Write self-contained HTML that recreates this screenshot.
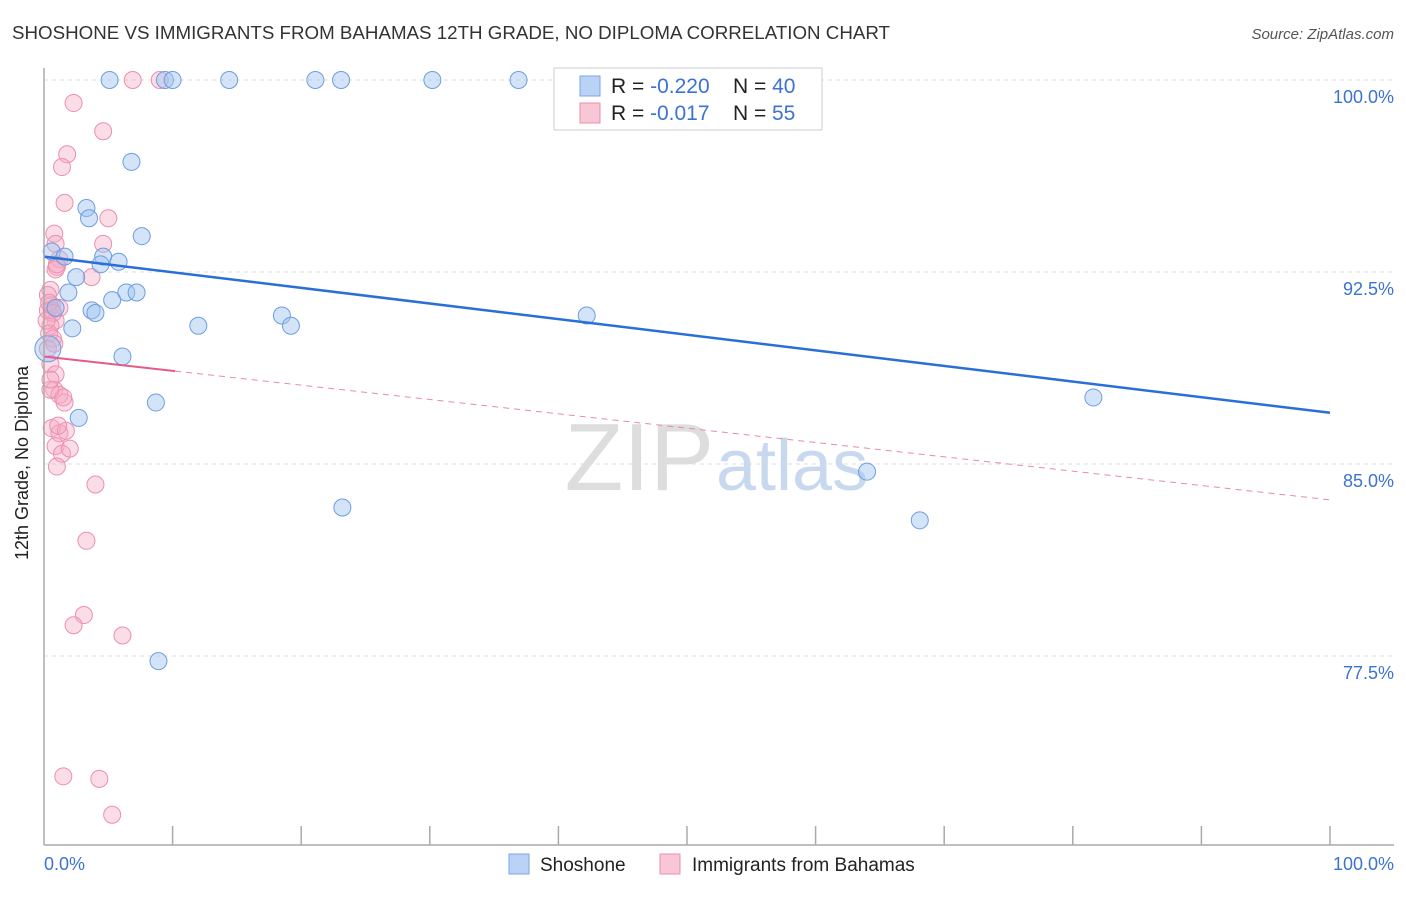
<!DOCTYPE html>
<html><head><meta charset="utf-8"><style>
body{margin:0;background:#fff;font-family:"Liberation Sans",sans-serif;}
svg text{font-family:"Liberation Sans",sans-serif;}
</style></head><body>
<svg width="1406" height="892">
<text x="12" y="39" font-size="18" fill="#333" textLength="878" lengthAdjust="spacingAndGlyphs">SHOSHONE VS IMMIGRANTS FROM BAHAMAS 12TH GRADE, NO DIPLOMA CORRELATION CHART</text>
<text x="1394" y="39" font-size="15" fill="#555" text-anchor="end" font-style="italic">Source: ZipAtlas.com</text>
<g id="grid"></g>
<text x="714" y="490" font-size="96" fill="#ddd" text-anchor="end" font-family="Liberation Serif">ZIP</text>
<text x="716" y="490" font-size="72" fill="#c8d9ef">atlas</text>
<g id="pts"></g>
<g id="lines"></g>
<line x1="44" y1="68" x2="44" y2="845" stroke="#aaa" stroke-width="1.5"/>
<line x1="44" y1="845" x2="1394" y2="845" stroke="#aaa" stroke-width="1.5"/>
<text x="20" y="455" font-size="18" fill="#222" text-anchor="middle" transform="rotate(-90 28 455)">12th Grade, No Diploma</text>
<text x="44" y="870" font-size="18" fill="#3b73d1">0.0%</text>
<text x="1394" y="870" font-size="18" fill="#3b73d1" text-anchor="end">100.0%</text>
<g>
<rect x="554" y="68" width="268" height="62" fill="#fff" stroke="#ccc"/>
<rect x="580" y="76" width="20" height="20" fill="#b9d2f5" stroke="#7aa6e6"/>
<rect x="580" y="103" width="20" height="20" fill="#f9c6d6" stroke="#ec8fae"/>
<text x="611" y="93" font-size="21" fill="#222">R = <tspan fill="#3b73d1">-0.220</tspan><tspan x="733">N = </tspan><tspan fill="#3b73d1">40</tspan></text>
<text x="611" y="120" font-size="21" fill="#222">R = <tspan x="650" fill="#3b73d1">-0.017</tspan><tspan x="733">N = </tspan><tspan x="772" fill="#3b73d1">55</tspan></text>
</g>
<rect x="509" y="854" width="20" height="20" fill="#b9d2f5" stroke="#7aa6e6"/>
<text x="540" y="871" font-size="19" fill="#222">Shoshone</text>
<rect x="660" y="854" width="20" height="20" fill="#f9c6d6" stroke="#ec8fae"/>
<text x="692" y="871" font-size="19" fill="#222">Immigrants from Bahamas</text>
</svg>
<script>
const yTicks=[100,92.5,85,77.5];
const yTickLabels=["100.0%","92.5%","85.0%","77.5%"];
const blueX=[5.1,9.4,10.0,14.4,21.1,23.1,30.2,36.9,6.8,3.3,3.5,7.6,0.6,1.6,4.6,5.8,4.4,2.5,1.9,6.4,7.2,5.3,3.7,4.0,0.9,2.2,12.0,18.5,19.2,42.2,6.1,81.6,8.7,2.7,23.2,64.0,68.1,8.9,0.3];
const blueY=[100,100,100,100,100,100,100,100,96.8,95.0,94.6,93.9,93.3,93.1,93.1,92.9,92.8,92.3,91.7,91.7,91.7,91.4,91.0,90.9,91.1,90.3,90.4,90.8,90.4,90.8,89.2,87.6,87.4,86.8,83.3,84.7,82.8,77.3,89.5];
const pinkX=[6.9,9.0,2.3,4.6,1.8,1.4,1.6,5.0,0.8,0.9,4.6,1.2,1.0,0.9,3.7,0.5,0.6,1.2,0.3,0.9,0.5,0.4,0.7,0.3,0.5,0.9,0.8,1.2,1.6,1.5,0.6,1.2,1.7,0.9,1.4,1.0,4.0,3.3,3.1,2.3,6.1,1.5,4.3,5.3,0.5,0.3,0.6,1.0,0.4,0.7,2.0,0.5,0.8,1.1,0.2];
const pinkY=[100,100,99.1,98.0,97.1,96.6,95.2,94.6,94.0,93.6,93.6,93.0,92.7,92.6,92.3,91.8,91.2,91.1,91.0,90.6,90.4,90.1,89.9,89.5,88.9,88.5,87.9,87.7,87.4,87.6,86.4,86.2,86.3,85.7,85.4,84.9,84.2,82.0,79.1,78.7,78.3,72.8,72.7,71.3,87.9,91.6,91.0,92.8,91.3,90.9,85.6,88.3,89.7,86.5,90.6];
const blueTrend=[93.1,87.0];
const pinkTrend=[89.2,83.6];
const pinkSolidEnd=10.2;
const X=v=>44+v*12.86, Y=v=>80+(100-v)*25.6;
const NS="http://www.w3.org/2000/svg";
function mk(t,a,p){const e=document.createElementNS(NS,t);for(const k in a)e.setAttribute(k,a[k]);p.appendChild(e);return e;}
const grid=document.getElementById('grid');
yTicks.forEach((t,i)=>{
 const l=mk('line',{x1:44,x2:1394,y1:Y(t),y2:Y(t),stroke:'#ddd','stroke-dasharray':'4,4'},grid);
 
 
 const tx=mk('text',{x:1394,y:Y(t)+23,'font-size':18,fill:'#3b73d1','text-anchor':'end'},grid);
 tx.textContent=yTickLabels[i];
 
 
});
for(let i=1;i<=10;i++){
 const l=mk('line',{x1:X(i*10),x2:X(i*10),y1:826,y2:845,stroke:'#aaa','stroke-width':1.5},grid);
 
 
}
const pts=document.getElementById('pts');
pinkX.forEach((x,i)=>{
 const c=mk('circle',{cx:X(x),cy:Y(pinkY[i]),r:8.5,fill:'rgba(246,170,196,0.4)',stroke:'#ec8fae','stroke-width':1},pts);
 
 
});
blueX.forEach((x,i)=>{
 const c=mk('circle',{cx:X(x),cy:Y(blueY[i]),r:i==blueX.length-1?13:8.5,fill:'rgba(160,195,240,0.45)',stroke:'#6d9de2','stroke-width':1},pts);
 
 
});
const ln=document.getElementById('lines');
const b=mk('line',{x1:X(0),y1:Y(blueTrend[0]),x2:X(100),y2:Y(blueTrend[1]),stroke:'#2a6fd6','stroke-width':2.5},ln);


const pm=pinkTrend[0]+(pinkTrend[1]-pinkTrend[0])*pinkSolidEnd/100;
const p1=mk('line',{x1:X(0),y1:Y(pinkTrend[0]),x2:X(pinkSolidEnd),y2:Y(pm),stroke:'#e45a8a','stroke-width':2},ln);


const p2=mk('line',{x1:X(pinkSolidEnd),y1:Y(pm),x2:X(100),y2:Y(pinkTrend[1]),stroke:'#e88aab','stroke-width':1,'stroke-dasharray':'6,5'},ln);


</script>
</body></html>
